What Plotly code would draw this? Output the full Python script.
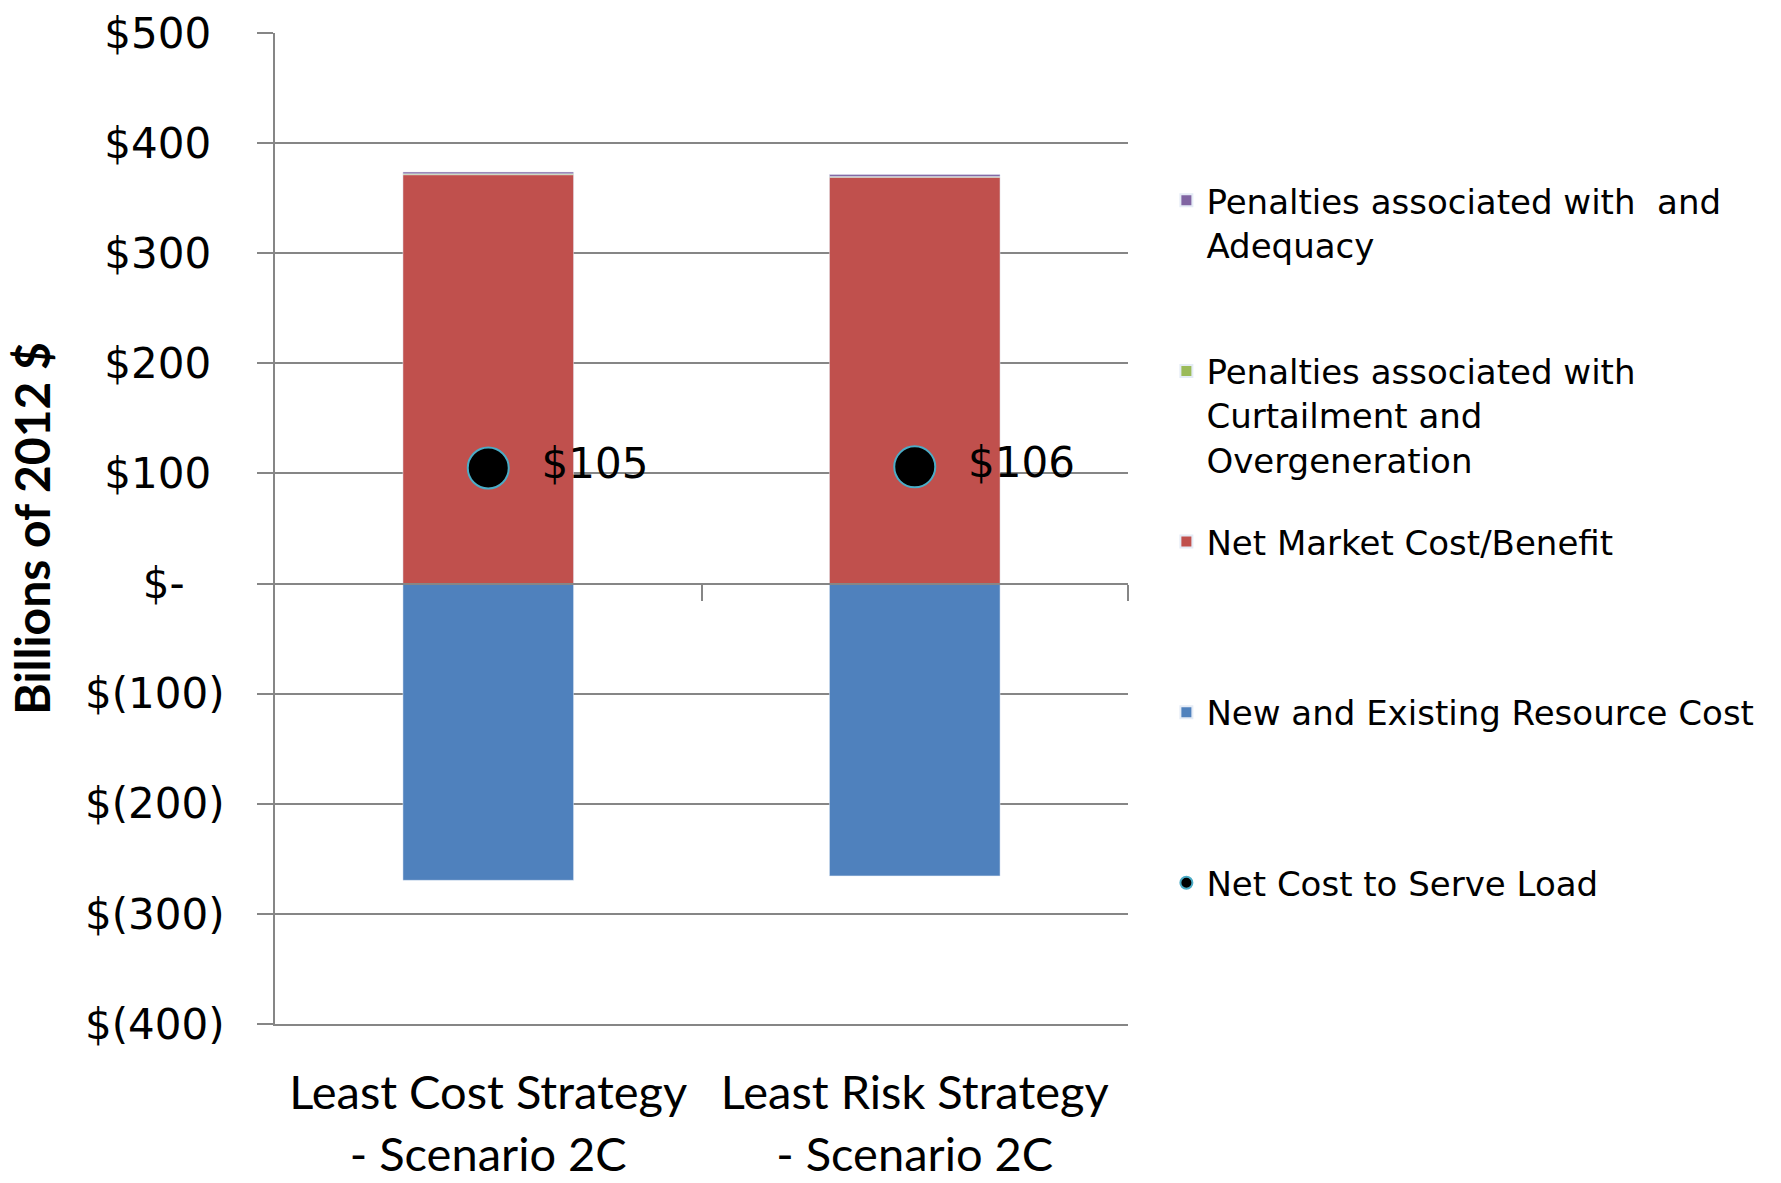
import plotly.graph_objects as go

categories = ["Least Cost Strategy<br>- Scenario 2C", "Least Risk Strategy<br>- Scenario 2C"]
resource_cost = [-269.5, -265.5]
net_market = [371.3, 369.0]
pen_curtail = [0.8, 0.6]
pen_adequacy = [1.6, 1.8]
net_cost = [105, 106]
net_cost_labels = ["$105", "$106"]

tick_vals = [500, 400, 300, 200, 100, 0, -100, -200, -300, -400]
tick_text = ["$500\u00a0", "$400\u00a0", "$300\u00a0", "$200\u00a0", "$100\u00a0", "$-\u00a0\u00a0\u00a0",
             "$(100)", "$(200)", "$(300)", "$(400)"]

names = {
    "adequacy": "Penalties associated with  and<br>Adequacy<br> ",
    "curtail": "Penalties associated with<br>Curtailment and<br>Overgeneration",
    "market": "Net Market Cost/Benefit<br> <br> ",
    "resource": "New and Existing Resource Cost<br> <br> ",
    "net": "Net Cost to Serve Load<br> <br> ",
}

grey = "#868686"
fig = go.Figure()
fig.add_trace(go.Bar(x=categories, y=resource_cost, name=names["resource"], marker_color="#4F81BD",
                     legendrank=4, legendgroup="d", width=0.4))
fig.add_trace(go.Bar(x=categories, y=net_market, name=names["market"], marker_color="#C0504D",
                     legendrank=3, legendgroup="c", width=0.4))
fig.add_trace(go.Bar(x=categories, y=pen_curtail, name=names["curtail"], marker_color="#9BBB59",
                     legendrank=2, legendgroup="b", width=0.4))
fig.add_trace(go.Bar(x=categories, y=pen_adequacy, name=names["adequacy"], marker_color="#8064A2",
                     legendrank=1, legendgroup="a", width=0.4))
fig.add_trace(go.Scatter(x=categories, y=net_cost, name=names["net"], mode="markers+text",
                         text=["\u00a0\u00a0" + t for t in net_cost_labels], textposition="middle right",
                         textfont=dict(family="DejaVu Sans", size=42, color="black"),
                         marker=dict(color="black", size=41, line=dict(color="#4BACC6", width=2)),
                         legendrank=5, legendgroup="e"))
# empty trace so the zero-line axis (x2) is drawn
fig.add_trace(go.Scatter(x=[], y=[], xaxis="x2", showlegend=False, hoverinfo="skip"))

fig.update_layout(
    width=1781, height=1183,
    margin=dict(l=275, r=653, t=33, b=158.5, autoexpand=False),
    plot_bgcolor="white", paper_bgcolor="white",
    barmode="relative", bargap=0.6,
    font=dict(family="DejaVu Sans", color="black"),
    legend=dict(x=1.045, y=0.86, xanchor="left", yanchor="top", traceorder="grouped",
                valign="top", tracegroupgap=35, font=dict(family="DejaVu Sans", size=34),
                itemsizing="constant"),
    xaxis=dict(showline=True, linecolor=grey, linewidth=2, ticks="", showgrid=False,
               tickfont=dict(family="Lato", size=47), ticklabelstandoff=27),
    xaxis2=dict(overlaying="x", anchor="free", position=400 / 900, range=[-0.5, 1.5],
                tickvals=[0.5, 1.5], ticks="outside", ticklen=16, tickcolor=grey, tickwidth=2,
                showline=True, linecolor=grey, linewidth=2, showticklabels=False, showgrid=False,
                zeroline=False),
    yaxis=dict(range=[-400, 500], tickvals=tick_vals, ticktext=tick_text, showgrid=True,
               gridcolor=grey, gridwidth=1.5, showline=True, linecolor=grey, linewidth=2,
               ticks="outside", ticklen=16, tickcolor=grey, tickwidth=1.5, zeroline=False,
               tickfont=dict(family="DejaVu Sans", size=42), ticklabelstandoff=24,
               title=dict(text="Billions of 2012 $", font=dict(family="Lato", size=48, weight="bold"),
                          standoff=19)),
)

fig.write_html("out.html")
